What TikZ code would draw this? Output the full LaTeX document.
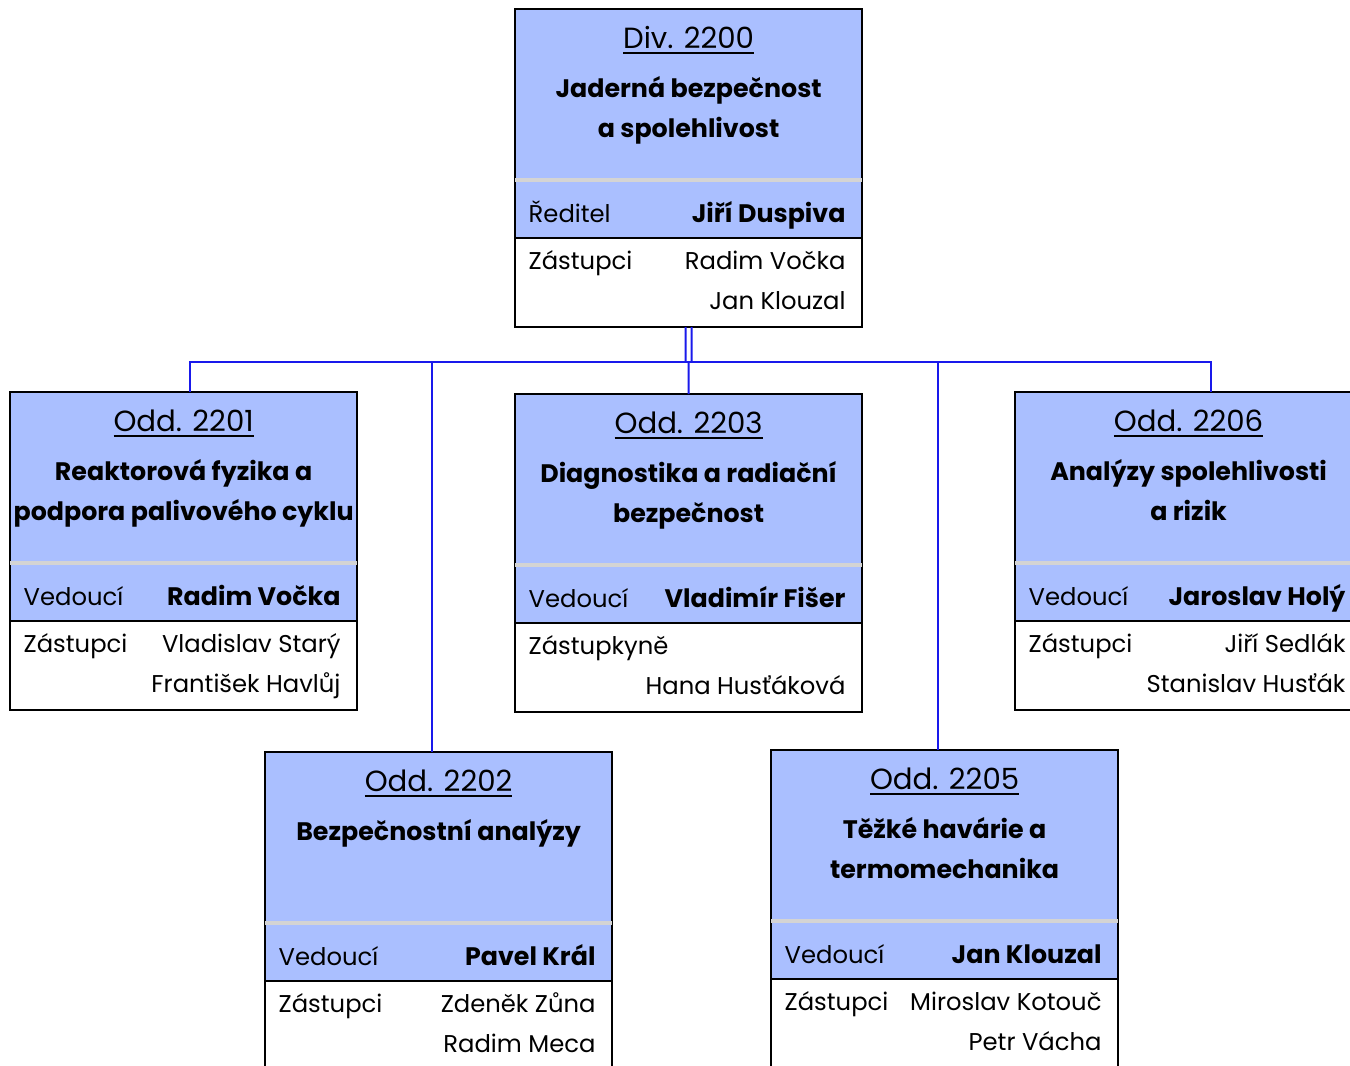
\documentclass[tikz,border=0pt]{standalone}
\usepackage{fontspec}
\setmainfont{Poppins}
\usepackage{tikz}

\definecolor{odmodra}{RGB}{170,191,255}
\definecolor{odseda}{RGB}{212,212,212}
\definecolor{spojmodra}{RGB}{25,25,235}

\tikzset{
  utvarbox/.style={draw=black, line width=0.02cm, minimum width=3.47cm,
    minimum height=3.18cm, inner sep=0pt, outer sep=0pt, anchor=north west},
  spoj/.style={draw=spojmodra, line width=0.02cm},
  kod/.style={anchor=base, inner sep=0pt, font=\fontsize{8.3}{10}\selectfont},
  nazev/.style={anchor=base, inner sep=0pt, font=\fontsize{7.2}{9}\selectfont\bfseries},
  popis/.style={anchor=base west, inner sep=0pt, font=\fontsize{6.9}{9}\selectfont},
  jmeno/.style={anchor=base east, inner sep=0pt, font=\fontsize{6.9}{9}\selectfont},
  vedouci/.style={anchor=base east, inner sep=0pt, font=\fontsize{7.2}{9}\selectfont\bfseries},
}

% box: name, top left corner, code, title line 1, title line 2
\newcommand{\utvar}[5]{%
  \fill[odmodra] (#2) rectangle ++(347,229);
  \node[utvarbox] (#1) at (#2) {};
  \draw[odseda, line width=0.035cm] (#1.north west) ++(0,171) -- ++(347,0);
  \draw[line width=0.02cm] (#1.north west) ++(0,229) -- ++(347,0);
  \path (#1.north) ++(0,39) node[kod] {\underline{#3}};
  \path (#1.north) ++(0,88) node[nazev] {#4};
  \path (#1.north) ++(0,128) node[nazev] {#5};
}
% people: name, head label, head, deputy label, deputy 1, deputy 2
\newcommand{\lide}[6]{%
  \path (#1.north west) ++(13,213) node[popis] {#2};
  \path (#1.north east) ++(-16,213) node[vedouci] {#3};
  \path (#1.north west) ++(13,260) node[popis] {#4};
  \path (#1.north east) ++(-16,260) node[jmeno] {#5};
  \path (#1.north east) ++(-16,300) node[jmeno] {#6};
}

\begin{document}
\begin{tikzpicture}[x=0.01cm, y=-0.01cm]
    \useasboundingbox (0,0) rectangle (1350,1066);
    \clip (0,0) rectangle (1350,1066);

    % Division
    \utvar{d2200}{515,9}{Div. 2200}{Jaderná bezpečnost}{a spolehlivost}
    \lide{d2200}{Ředitel}{Jiří Duspiva}{Zástupci}{Radim Vočka}{Jan Klouzal}

    % Departments
    \utvar{d2201}{10,392}{Odd. 2201}{Reaktorová fyzika a}{podpora palivového cyklu}
    \lide{d2201}{Vedoucí}{Radim Vočka}{Zástupci}{Vladislav Starý}{František Havlůj}

    \utvar{d2203}{515,394}{Odd. 2203}{Diagnostika a radiační}{bezpečnost}
    \lide{d2203}{Vedoucí}{Vladimír Fišer}{Zástupkyně}{}{Hana Husťáková}

    \utvar{d2206}{1015,392}{Odd. 2206}{Analýzy spolehlivosti}{a rizik}
    \lide{d2206}{Vedoucí}{Jaroslav Holý}{Zástupci}{Jiří Sedlák}{Stanislav Husťák}

    \utvar{d2202}{265,752}{Odd. 2202}{Bezpečnostní analýzy}{}
    \lide{d2202}{Vedoucí}{Pavel Král}{Zástupci}{Zdeněk Zůna}{Radim Meca}

    \utvar{d2205}{771,750}{Odd. 2205}{Těžké havárie a}{termomechanika}
    \lide{d2205}{Vedoucí}{Jan Klouzal}{Zástupci}{Miroslav Kotouč}{Petr Vácha}

    % Connectors
    \coordinate (sber) at (688.5,362);
    \draw[spoj] ([xshift=-0.03cm]d2200.south) -- ([xshift=-0.03cm]sber);
    \draw[spoj] ([xshift=0.03cm]d2200.south) -- ([xshift=0.03cm]sber);
    \draw[spoj] ([xshift=0.065cm]d2201.north) |- (sber) -| ([xshift=0.225cm]d2206.north);
    \draw[spoj] ([xshift=-0.065cm]d2202.north) |- (sber);
    \draw[spoj] ([xshift=-0.065cm]d2205.north) |- (sber);
    \draw[spoj] (sber) -- (d2203.north);
\end{tikzpicture}
\end{document}
